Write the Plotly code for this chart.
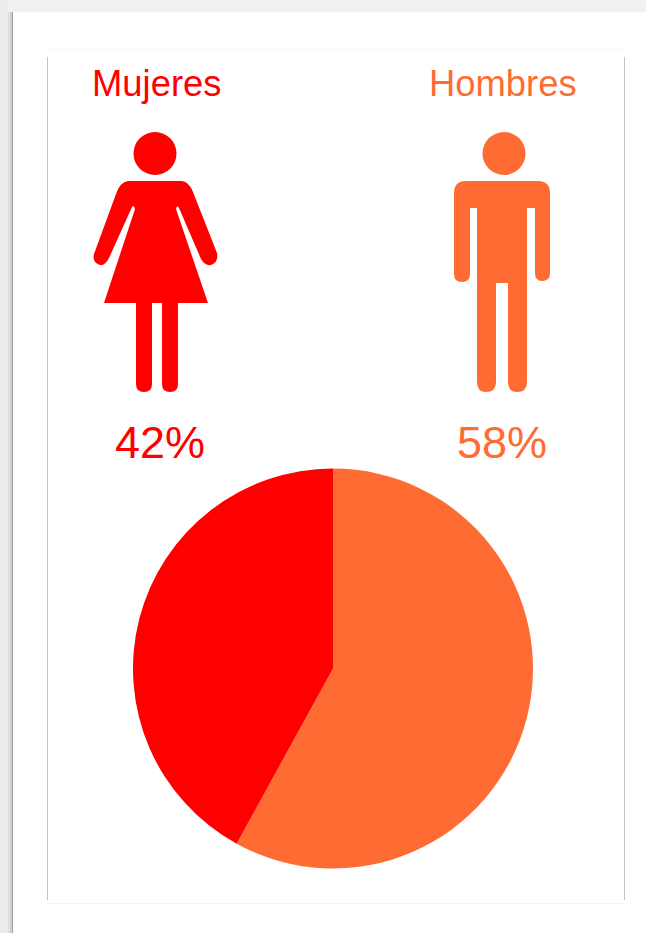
import plotly.graph_objects as go

categories = ["Hombres", "Mujeres"]
values = [58, 42]
colors = ["#FF6C33", "#FF0000"]

W, H = 646, 933
WOMAN = ("M128,181 L182,181 Q189,182 193,192 L217,253 Q219,262 211,265 Q205,266 201,259 "
         "L179,208 Q177,204 176,209 L208,303 L178,303 L178,384 Q178,392 170,392 Q162,392 162,384 "
         "L162,303 L152,303 L152,384 Q152,392 144,392 Q136,392 136,384 L136,303 L104,303 "
         "L135,209 Q134,204 132,207 L109,258 Q105,266 100,265 Q92,263 94,254 L116,194 Q120,182 128,181 Z")
MAN = ("M466,181 L538,181 Q550,181 550,193 L550,273 Q550,281 542,281 Q535,281 535,273 L535,208 L527,208 "
       "L527,382 Q527,392 517,392 Q508,392 508,382 L508,283 L496,283 L496,382 Q496,392 486,392 "
       "Q477,392 477,382 L477,208 L470,208 L470,274 Q470,282 462,282 Q454,282 454,274 L454,193 Q454,181 466,181 Z")


def rect(x0, y0, x1, y1, color):
    return dict(type="rect", xref="x", yref="y", x0=x0, y0=y0, x1=x1, y1=y1,
                fillcolor=color, line_width=0, layer="below")


def circle(cx, cy, r, color):
    return dict(type="circle", xref="x", yref="y", x0=cx - r, y0=cy - r, x1=cx + r, y1=cy + r,
                fillcolor=color, line_width=0, layer="above")


def path(d, color):
    return dict(type="path", xref="x", yref="y", path=d, fillcolor=color, line_width=0, layer="above")


shapes = [
    rect(0, 0, W, 12, "#F1F1F1"),
    rect(0, 0, 8, H, "#EDEDED"),
    rect(8, 12, 10, H, "#E0E0E0"),
    rect(10, 12, 12, H, "#CFCFCF"),
    rect(12, 12, 13, H, "#A0A0A0"),
    rect(46, 49, 625, 50, "#F6F6F6"),
    rect(47, 903, 624, 904, "#F3F3F3"),
    rect(47, 57, 48, 900, "#C4C4C4"),
    rect(624, 57, 625, 900, "#C4C4C4"),
    circle(155, 153.5, 21.5, colors[1]),
    path(WOMAN, colors[1]),
    circle(504, 153.5, 21.5, colors[0]),
    path(MAN, colors[0]),
]

FONT = "Liberation Sans, Arial, sans-serif"


def label(x, y, text, color, size):
    return dict(xref="x", yref="y", x=x, y=y, text=text, showarrow=False,
                xanchor="center", yanchor="middle",
                font=dict(family=FONT, size=size, color=color))


annotations = [
    label(156.5, 83, categories[1], colors[1], 36.4),
    label(503, 83, categories[0], colors[0], 36.4),
    label(159.5, 442, f"{values[1]}%", colors[1], 45),
    label(502, 442, f"{values[0]}%", colors[0], 45),
]

fig = go.Figure(go.Pie(
    labels=categories, values=values, sort=False, direction="clockwise", rotation=0,
    marker=dict(colors=colors, line=dict(width=0)), textinfo="none", hoverinfo="skip",
    showlegend=False,
    domain=dict(x=[133 / W, 533 / W], y=[1 - 868.5 / H, 1 - 468.5 / H]),
))
fig.add_trace(go.Scatter(x=[], y=[], showlegend=False))
fig.update_layout(
    width=W, height=H, margin=dict(l=0, r=0, t=0, b=0),
    paper_bgcolor="#FFFFFF", plot_bgcolor="rgba(0,0,0,0)",
    xaxis=dict(range=[0, W], visible=False, fixedrange=True),
    yaxis=dict(range=[H, 0], visible=False, fixedrange=True),
    shapes=shapes, annotations=annotations,
)
fig.write_html("out.html", config=dict(displayModeBar=False),
               post_script="document.body.style.margin='0';document.documentElement.style.overflow='hidden';")
